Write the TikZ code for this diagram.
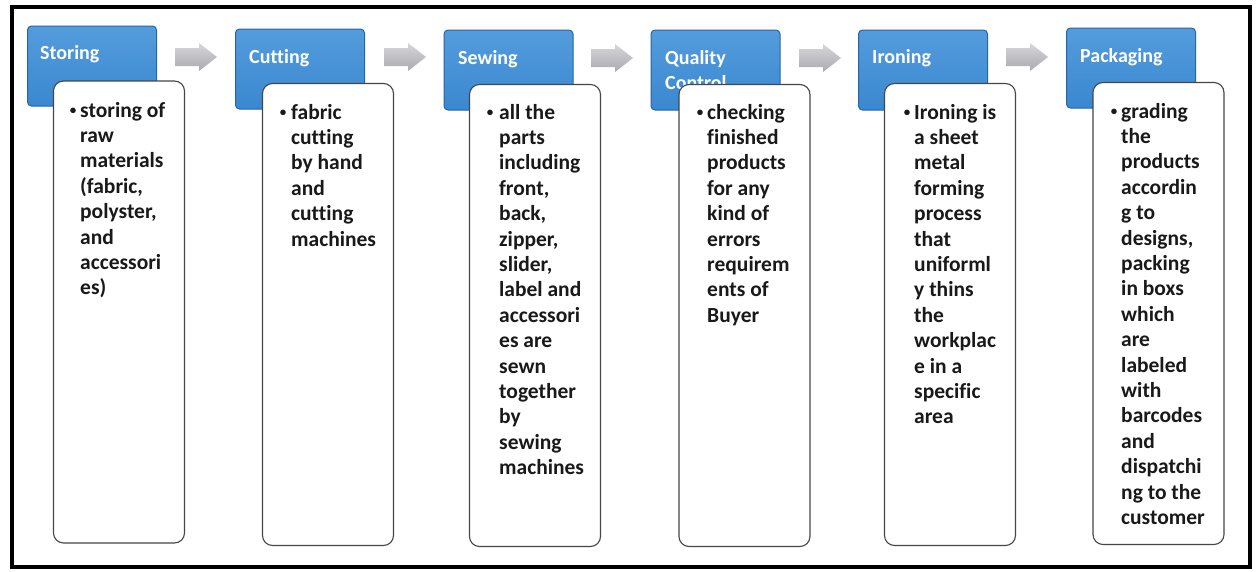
\documentclass[tikz,border=0pt]{standalone}
\usepackage{fontspec}
\setmainfont{Carlito}[Ligatures=NoCommon]
\definecolor{bluefill}{RGB}{58,136,208}
\definecolor{bluetop}{RGB}{84,156,220}
\definecolor{blueedge}{RGB}{38,100,170}
\definecolor{arrowlight}{RGB}{215,215,218}
\definecolor{arrowdark}{RGB}{170,170,175}
\definecolor{boxedge}{RGB}{70,70,70}
\definecolor{ink}{RGB}{25,25,25}
\tikzset{
  bluebox/.style={rectangle, rounded corners=4pt, draw=blueedge, line width=1pt,
    top color=bluetop, bottom color=bluefill, minimum width=129pt, minimum height=80pt, inner sep=0pt},
  whitebox/.style={rectangle, rounded corners=10pt, draw=boxedge, line width=1.1pt,
    fill=white, minimum width=131pt, minimum height=462pt, inner sep=0pt},
  headtext/.style={anchor=base west, inner sep=0pt, text=white, align=left,
    font=\fontsize{20}{25}\selectfont\bfseries},
  bodytext/.style={anchor=base west, inner sep=0pt, text=ink, align=left,
    font=\fontsize{21.5}{25.4}\selectfont\bfseries},
  bulletmark/.style={anchor=base, inner sep=0pt, text=ink,
    font=\fontsize{13}{14}\selectfont\bfseries},
  garrow/.pic={\shade[top color=arrowlight, bottom color=arrowdark]
      (-21,-9) -- (3,-9) -- (3,-14) -- (21,0) -- (3,14) -- (3,9) -- (-21,9) -- cycle;}
}
\begin{document}
\begin{tikzpicture}[x=1pt,y=-1pt]
\useasboundingbox (0,0) rectangle (1256,571);
\fill[white] (0,0) rectangle (1256,571);
\draw[line width=3.5pt, black] (12,7) rectangle (1250,567);

% connectors (block arrows)
\pic (a1) at (196,57) {garrow};
\pic (a2) at (405,57) {garrow};
\pic (a3) at (612,58) {garrow};
\pic (a4) at (820,58) {garrow};
\pic (a5) at (1027,57) {garrow};

% column 1: Storing (8 lines, first baseline 117)
\node[bluebox] (h1) at (92,66) {};
\node[headtext] (l1) at (40,59) {Storing};
\node[whitebox] (w1) at (119,312) {};
\node[bulletmark] (b1) at (73,114) {•};
\node[bodytext] (t1) at (80,294.8) {storing of\\raw\\materials\\(fabric,\\polyster,\\and\\accessori\\es)};

% column 2: Cutting (6 lines, first baseline 119)
\node[bluebox] (h2) at (300,69) {};
\node[headtext] (l2) at (249,63) {Cutting};
\node[whitebox] (w2) at (328,314.5) {};
\node[bulletmark] (b2) at (283,116) {•};
\node[bodytext] (t2) at (291,246) {fabric\\cutting\\by hand\\and\\cutting\\machines};

% column 3: Sewing (15 lines)
\node[bluebox] (h3) at (508.5,70) {};
\node[headtext] (l3) at (458,64) {Sewing};
\node[whitebox] (w3) at (535,315.5) {};
\node[bulletmark] (b3) at (490,116) {•};
\node[bodytext] (t3) at (499,474.6) {all the\\parts\\including\\front,\\back,\\zipper,\\slider,\\label and\\accessori\\es are\\sewn\\together\\by\\sewing\\machines};

% column 4: Quality Control (9 lines)
\node[bluebox] (h4) at (715.5,70) {};
\node[headtext] (l4) at (665,89) {Quality\\Control};
\node[whitebox] (w4) at (744.5,315.5) {};
\node[bulletmark] (b4) at (700,116) {•};
\node[bodytext] (t4) at (707,322.2) {checking\\finished\\products\\for any\\kind of\\errors\\requirem\\ents of\\Buyer};

% column 5: Ironing (13 lines)
\node[bluebox] (h5) at (923,70) {};
\node[headtext] (l5) at (872,63) {Ironing};
\node[whitebox] (w5) at (950,314.5) {};
\node[bulletmark] (b5) at (907,116) {•};
\node[bodytext] (t5) at (914,423.8) {Ironing is\\a sheet\\metal\\forming\\process\\that\\uniforml\\y thins\\the\\workplac\\e in a\\specific\\area};

% column 6: Packaging (17 lines)
\node[bluebox] (h6) at (1131,68) {};
\node[headtext] (l6) at (1080,62) {Packaging};
\node[whitebox] (w6) at (1158.5,313.5) {};
\node[bulletmark] (b6) at (1114,115) {•};
\node[bodytext] (t6) at (1121,524.4) {grading\\the\\products\\accordin\\g to\\designs,\\packing\\in boxs\\which\\are\\labeled\\with\\barcodes\\and\\dispatchi\\ng to the\\customer};
\end{tikzpicture}
\end{document}
